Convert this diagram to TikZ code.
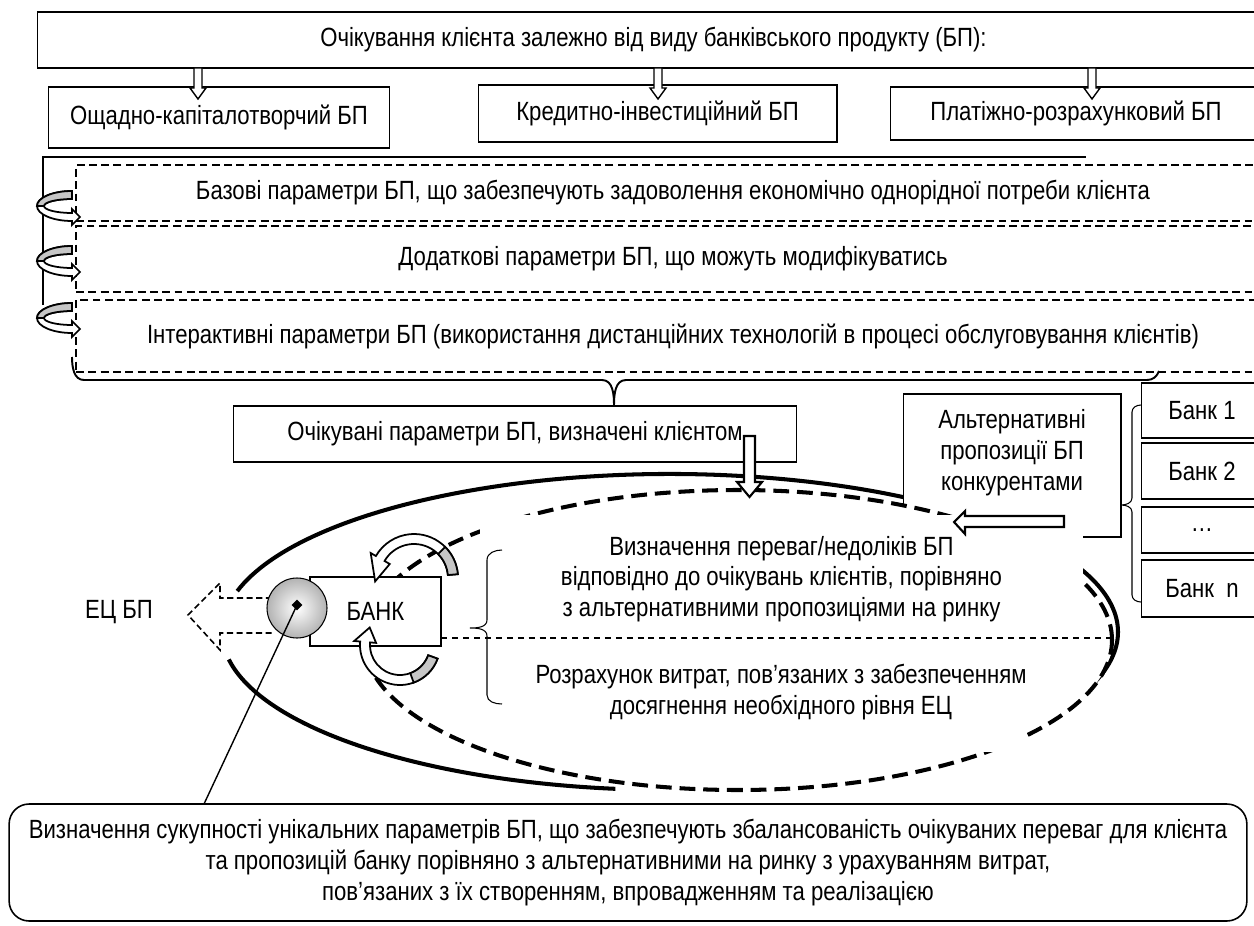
\documentclass[tikz,border=0pt]{standalone}
\usepackage{fontspec}
\setmainfont{Liberation Sans}[FakeStretch=0.84]
\usetikzlibrary{calc,shapes.geometric}

\begin{document}
\begin{tikzpicture}[x=0.02cm,y=0.02cm,
  font=\fontsize{15}{17.5}\selectfont,
  box/.style={draw,line width=0.6pt,align=center,inner sep=0pt},
  dbox/.style={draw,line width=1.1pt,dash pattern=on 4.5pt off 2.5pt,align=center,inner sep=0pt},
  cover/.style={fill=white,align=center,inner sep=0pt},
  bline/.style={line width=1.1pt},
  thinline/.style={line width=0.6pt},
  blockarr/.style={draw,fill=white,line width=1.2pt,line join=miter},
  smallarr/.style={draw,fill=white,line width=0.8pt},
  rib/.style={draw,fill=white,line width=1pt},
  ribback/.style={draw,fill=gray!45,line width=1pt},
  solidring/.style={line width=2.3pt},
  dashring/.style={line width=2.3pt,dash pattern=on 9pt off 4.5pt}
]
\useasboundingbox (0,0) rectangle (1254,-926);

% kinds of banking product
\node[box,minimum width=24.66cm,minimum height=1.12cm] (expect) at (653.5,-40)
  {Очікування клієнта залежно від виду банківського продукту (БП):};
\node[box,minimum width=6.84cm,minimum height=1.22cm] (sav) at (219,-117.5) {Ощадно-капіталотворчий БП};
\node[box,minimum width=7.18cm,minimum height=1.14cm] (cred) at (657.5,-113.5) {Кредитно-інвестиційний БП};
\node[box,minimum width=7.44cm,minimum height=1.06cm] (pay) at (1076,-113.5) {Платіжно-розрахунковий БП};
\foreach \ax in {198,658,1092}
  \draw[smallarr] (\ax-4,-68) -- (\ax+4,-68) -- (\ax+4,-88) -- (\ax+8,-88) -- (\ax,-99)
    -- (\ax-8,-88) -- (\ax-4,-88) -- cycle;

% parameter groups
\draw[bline] (43,-305) -- (43,-157) -- (1086,-157);
\node[dbox,minimum width=23.88cm,minimum height=1.12cm] (base) at (673,-193)
  {Базові параметри БП, що забезпечують задоволення економічно однорідної потреби клієнта};
\node[dbox,minimum width=23.88cm,minimum height=1.32cm] (extra) at (673,-259)
  {Додаткові параметри БП, що можуть модифікуватись};
\node[dbox,minimum width=23.88cm,minimum height=1.44cm] (inter) at (673,-336)
  {Інтерактивні параметри БП (використання дистанційних технологій в процесі обслуговування клієнтів)};
\foreach \cy in {-206,-261,-318} {
  \draw[rib] (72,\cy+15) arc[start angle=90,end angle=270,x radius=35,y radius=15]
    -- (72,\cy-19) -- (80,\cy-11) -- (72,\cy-3) -- (72,\cy-7)
    arc[start angle=270,end angle=90,x radius=28,y radius=7] -- cycle;
  \draw[ribback] (72,\cy+15) arc[start angle=90,end angle=180,x radius=35,y radius=15]
    -- (44,\cy) arc[start angle=180,end angle=90,x radius=28,y radius=7] -- cycle;
}
\draw[bline] (72,-357) to[out=-90,in=180] (84,-380) -- (602,-380) to[out=0,in=90] (614,-406)
  to[out=90,in=180] (626,-380) -- (1147,-380) to[out=0,in=-110] (1159,-371);
\node[box,minimum width=11.28cm,minimum height=1.12cm] (expbox) at (515,-434)
  {Очікувані параметри БП, визначені клієнтом};

% value ellipses
\coordinate (oc) at (670,-632);
\draw[solidring] ($(oc)+(165:448 and 158)$) arc[start angle=165,end angle=-25,x radius=448,y radius=158];
\draw[solidring] ($(oc)+(-97:448 and 158)$) arc[start angle=-97,end angle=-170,x radius=448,y radius=158];
\node[box,fill=white,minimum width=4.36cm,minimum height=2.86cm,
  label={[align=center,yshift=0.26cm]center:Альтернативні\\пропозиції БП\\конкурентами}] (alt) at (1012,-465.5) {};
\draw[dashring,fill=white] (738,-640) ellipse[x radius=374,y radius=150];
\node[cover,minimum width=12.06cm,minimum height=2.56cm] (pros) at (781.5,-579)
  {Визначення переваг/недоліків БП\\відповідно до очікувань клієнтів, порівняно\\з альтернативними пропозиціями на ринку};
\node[cover,minimum width=9.64cm,minimum height=2.4cm] (cost) at (781,-692)
  {Розрахунок витрат, пов’язаних з забезпеченням\\досягнення необхідного рівня ЕЦ};

% bank and its value
\node[box,fill=white,minimum width=2.62cm,minimum height=1.38cm] (bank) at (375.5,-611.5) {БАНК};
\draw[thinline,dash pattern=on 3.4pt off 2.8pt] (bank.east |- 0,-638) -- (1112,-638);
\draw[thinline] (502,-550) to[out=180,in=90] (487,-560) -- (487,-620) to[out=-90,in=0] (470,-628)
  to[out=0,in=90] (487,-636) -- (487,-695) to[out=-90,in=180] (502,-704);
\draw[line width=0.9pt,dash pattern=on 3.5pt off 2pt,fill=white] (272,-598) -- (220,-598) -- (220,-583)
  -- (188,-615) -- (220,-650) -- (220,-633) -- (272,-633);
\node[circle,draw,line width=0.6pt,inner color=white,outer color=gray!60,minimum size=1.2cm,inner sep=0pt] (hub) at (297,-608) {};
\node[diamond,fill=black,minimum size=0.22cm,inner sep=0pt] (dot) at (297,-605) {};
\node (ec) at (119,-612) {ЕЦ БП};

\coordinate (ta) at (414,-578);
\draw[rib] ($(ta)+(5:44)$) arc[start angle=5,end angle=150,radius=44] -- ($(ta)+(150:50)$)
  -- ($(ta)+(185:39)$) -- ($(ta)+(150:28)$) -- ($(ta)+(150:34)$) arc[start angle=150,end angle=5,radius=34] -- cycle;
\draw[ribback] ($(ta)+(5:44)$) arc[start angle=5,end angle=45,radius=44] -- ($(ta)+(45:34)$)
  arc[start angle=45,end angle=5,radius=34] -- cycle;
\coordinate (ba) at (400,-645);
\draw[rib] ($(ba)+(-20:40)$) arc[start angle=-20,end angle=-185,radius=40] -- ($(ba)+(-185:46)$)
  -- ($(ba)+(-210:35)$) -- ($(ba)+(-185:24)$) -- ($(ba)+(-185:30)$) arc[start angle=-185,end angle=-20,radius=30] -- cycle;
\draw[ribback] ($(ba)+(-20:40)$) arc[start angle=-20,end angle=-70,radius=40] -- ($(ba)+(-70:30)$)
  arc[start angle=-70,end angle=-20,radius=30] -- cycle;

% inputs
\draw[blockarr] (744,-436) -- (755,-436) -- (755,-482) -- (762,-482) -- (749.5,-497) -- (737,-482) -- (744,-482) -- cycle;
\draw[blockarr] (1064,-516) -- (965,-516) -- (965,-511) -- (954,-522) -- (965,-534) -- (965,-527) -- (1064,-527) -- cycle;

% competitors
\node[box,minimum width=2.44cm,minimum height=1.1cm] (b1) at (1202,-410.5) {Банк 1};
\node[box,minimum width=2.44cm,minimum height=1.12cm] (b2) at (1202,-471) {Банк 2};
\node[box,minimum width=2.44cm,minimum height=0.92cm] (bdots) at (1202,-530) {…};
\node[box,minimum width=2.44cm,minimum height=1.14cm] (bn) at (1202,-588.5) {Банк\ \ n};
\draw[thinline] (1141,-405) to[out=180,in=90] (1132,-412) -- (1132,-498) to[out=-90,in=0] (1121,-505)
  to[out=0,in=90] (1132,-512) -- (1132,-595) to[out=-90,in=180] (1141,-602);

% result
\node[box,rounded corners=0.4cm,line width=0.9pt,minimum width=24.76cm,minimum height=2.34cm] (goal) at (628,-862.5)
  {Визначення сукупності унікальних параметрів БП, що забезпечують збалансованість очікуваних переваг для клієнта\\
   та пропозицій банку порівняно з альтернативними на ринку з урахуванням витрат,\\
   пов’язаних з їх створенням, впровадженням та реалізацією};
\coordinate (foot) at (204,-804);
\draw[line width=0.8pt] (dot.center) -- (foot);
\end{tikzpicture}
\end{document}
